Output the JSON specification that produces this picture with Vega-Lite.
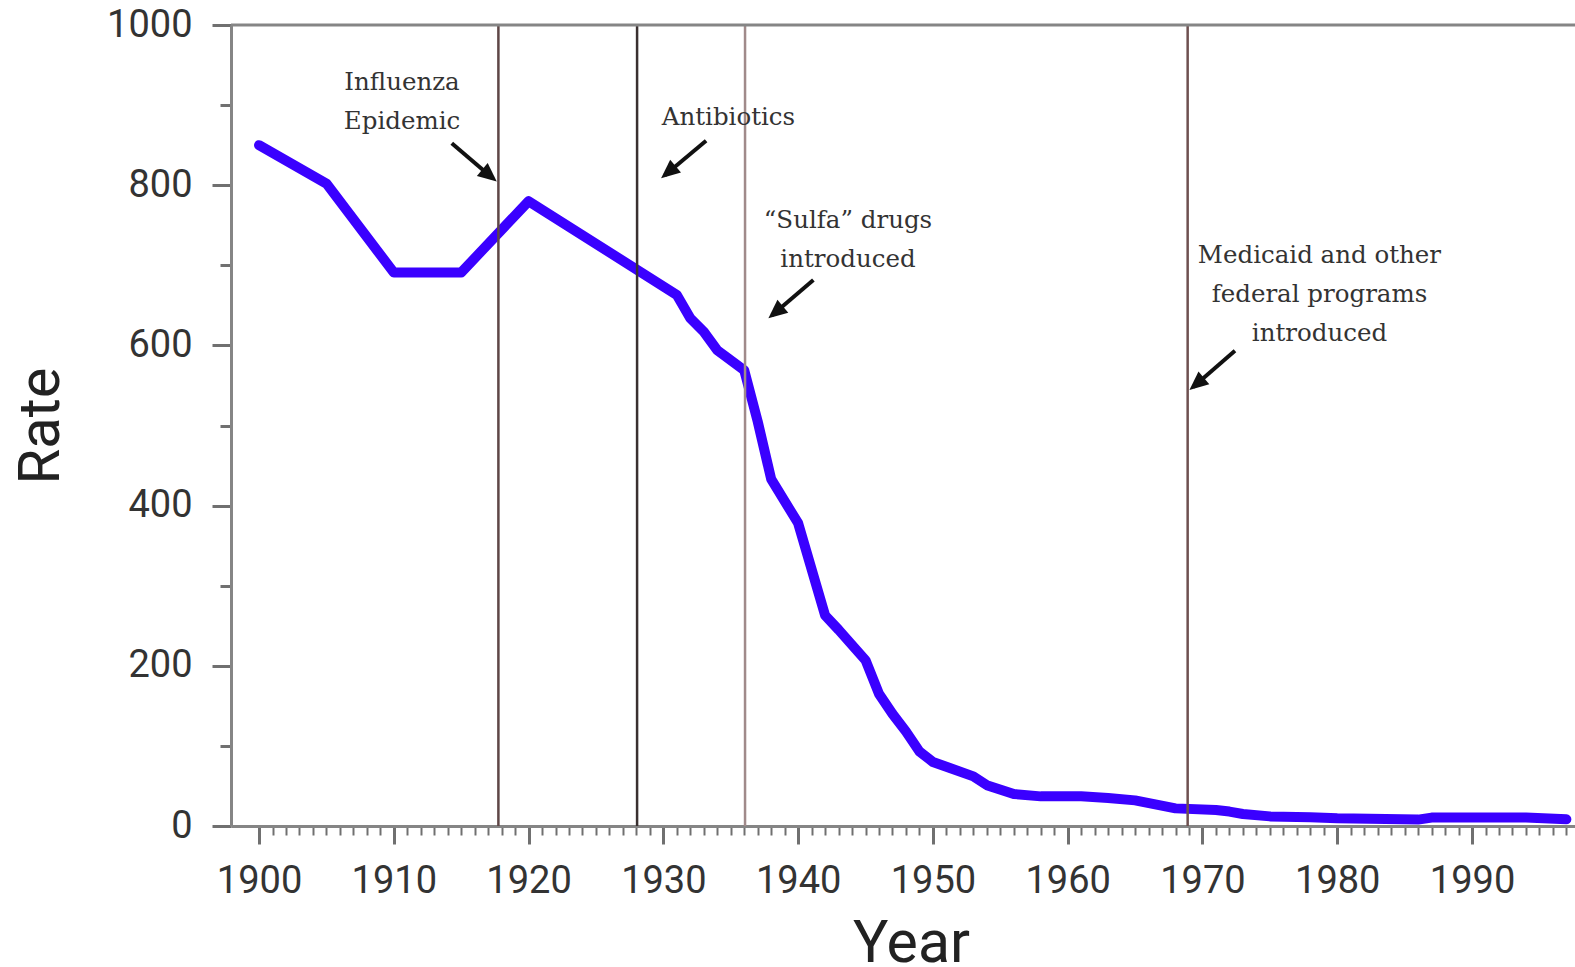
{
  "$schema": "https://vega.github.io/schema/vega-lite/v6.json",
  "width": 1344,
  "height": 801,
  "autosize": {"type": "none"},
  "padding": {"left": 231, "top": 25, "right": 0, "bottom": 141},
  "background": "white",
  "config": {"view": {"stroke": null}, "font": "Roboto"},
  "datasets": {
    "rate": [
      {"year": 1900, "rate": 850},
      {"year": 1905, "rate": 802},
      {"year": 1910, "rate": 691},
      {"year": 1915, "rate": 691},
      {"year": 1920, "rate": 780},
      {"year": 1931, "rate": 663},
      {"year": 1932, "rate": 634},
      {"year": 1933, "rate": 617},
      {"year": 1934, "rate": 594},
      {"year": 1936, "rate": 569},
      {"year": 1937, "rate": 505},
      {"year": 1938, "rate": 433},
      {"year": 1940, "rate": 378},
      {"year": 1942, "rate": 263},
      {"year": 1943, "rate": 245},
      {"year": 1945, "rate": 207},
      {"year": 1946, "rate": 165},
      {"year": 1947, "rate": 140},
      {"year": 1948, "rate": 118},
      {"year": 1949, "rate": 93},
      {"year": 1950, "rate": 80},
      {"year": 1953, "rate": 62},
      {"year": 1954, "rate": 51},
      {"year": 1956, "rate": 40},
      {"year": 1958, "rate": 37},
      {"year": 1961, "rate": 37},
      {"year": 1963, "rate": 35},
      {"year": 1965, "rate": 32},
      {"year": 1968, "rate": 22},
      {"year": 1971, "rate": 20},
      {"year": 1972, "rate": 18},
      {"year": 1973, "rate": 15},
      {"year": 1975, "rate": 12},
      {"year": 1978, "rate": 11},
      {"year": 1980, "rate": 9.6},
      {"year": 1986, "rate": 8},
      {"year": 1987, "rate": 10.5},
      {"year": 1994, "rate": 10.5},
      {"year": 1997, "rate": 8.3}
    ],
    "events": [
      {"event": "Influenza", "year": 1917.76},
      {"event": "Antibiotics", "year": 1928.05},
      {"event": "Sulfa", "year": 1936.06},
      {"event": "Medicaid", "year": 1968.9}
    ],
    "notes": [
      {"event": "Influenza", "year": 1910.61, "rate": 918.9, "label": "Influenza\nEpidemic"},
      {"event": "Antibiotics", "year": 1934.83, "rate": 875.2, "label": "Antibiotics"},
      {"event": "Sulfa", "year": 1943.7, "rate": 746.6, "label": "“Sulfa” drugs\nintroduced"},
      {"event": "Medicaid", "year": 1978.68, "rate": 702.9, "label": "Medicaid and other\nfederal programs\nintroduced"}
    ],
    "arrows": [
      {"event": "Influenza", "year0": 1914.3, "rate0": 852.3, "year1": 1917.36, "rate1": 808.4},
      {"event": "Antibiotics", "year0": 1933.17, "rate0": 855.6, "year1": 1930.11, "rate1": 812.5},
      {"event": "Sulfa", "year0": 1941.13, "rate0": 681.6, "year1": 1938.07, "rate1": 637.7},
      {"event": "Medicaid", "year0": 1972.41, "rate0": 593.4, "year1": 1969.31, "rate1": 548.2}
    ]
  },
  "layer": [
    {
      "data": {"name": "rate"},
      "mark": {"type": "line", "color": "#3a00ff", "strokeWidth": 10, "strokeJoin": "round", "strokeCap": "round"},
      "encoding": {
        "x": {
          "field": "year", "type": "quantitative",
          "scale": {"domain": [1897.92, 1997.64], "nice": false, "zero": false},
          "axis": {
            "title": "Year",
            "values": [1900,1901,1902,1903,1904,1905,1906,1907,1908,1909,1910,1911,1912,1913,1914,1915,1916,1917,1918,1919,1920,1921,1922,1923,1924,1925,1926,1927,1928,1929,1930,1931,1932,1933,1934,1935,1936,1937,1938,1939,1940,1941,1942,1943,1944,1945,1946,1947,1948,1949,1950,1951,1952,1953,1954,1955,1956,1957,1958,1959,1960,1961,1962,1963,1964,1965,1966,1967,1968,1969,1970,1971,1972,1973,1974,1975,1976,1977,1978,1979,1980,1981,1982,1983,1984,1985,1986,1987,1988,1989,1990,1991,1992,1993,1994,1995,1996,1997],
            "tickCount": 1000,
            "format": "d",
            "labelExpr": "datum.value % 10 === 0 ? datum.label : ''",
            "labelOverlap": false,
            "labelFlush": false,
            "grid": false,
            "tickSize": {"condition": {"test": "datum.value % 10 === 0", "value": 18}, "value": 9},
            "tickWidth": {"condition": {"test": "datum.value % 10 === 0", "value": 3}, "value": 2},
            "tickColor": "#707070",
            "domainColor": "#858585",
            "domainWidth": 3,
            "labelFont": "Roboto",
            "labelFontSize": 38,
            "labelColor": "#333333",
            "labelPadding": 18,
            "titleFont": "Roboto",
            "titleFontSize": 59,
            "titleFontWeight": "normal",
            "titleColor": "#222222",
            "titlePadding": 14,
            "titleX": 680
          }
        },
        "y": {
          "field": "rate", "type": "quantitative",
          "scale": {"domain": [0, 1000], "nice": false, "zero": true},
          "axis": {
            "title": "Rate",
            "values": [0,100,200,300,400,500,600,700,800,900,1000],
            "tickCount": 1000,
            "labelExpr": "datum.value % 200 === 0 ? datum.label : ''",
            "format": "d",
            "labelOverlap": false,
            "labelFlush": false,
            "grid": false,
            "tickSize": {"condition": {"test": "datum.value % 200 === 0", "value": 19}, "value": 11},
            "tickWidth": 3,
            "tickColor": "#707070",
            "domainColor": "#858585",
            "domainWidth": 3,
            "labelFont": "Roboto",
            "labelFontSize": 38,
            "labelColor": "#333333",
            "labelPadding": 20,
            "titleFont": "Roboto",
            "titleFontSize": 58,
            "titleFontWeight": "normal",
            "titleColor": "#222222",
            "titlePadding": 36
          }
        }
      }
    },
    {
      "data": {"name": "events"},
      "mark": {"type": "rule", "strokeWidth": 2.5},
      "encoding": {
        "x": {"field": "year", "type": "quantitative"},
        "color": {
          "field": "event", "type": "nominal",
          "scale": {"domain": ["Influenza", "Antibiotics", "Sulfa", "Medicaid"], "range": ["#5e4646", "#3a3030", "#a08a8a", "#6e5050"]},
          "legend": null
        }
      }
    },
    {
      "data": {"values": [{"rate": 1000}]},
      "mark": {"type": "rule", "color": "#858585", "strokeWidth": 3},
      "encoding": {"y": {"field": "rate", "type": "quantitative"}}
    },
    {
      "data": {"name": "notes"},
      "mark": {"type": "text", "font": "DejaVu Serif", "fontSize": 24.5, "lineHeight": 39, "lineBreak": "\n", "align": "center", "baseline": "alphabetic", "color": "#333333"},
      "encoding": {
        "x": {"field": "year", "type": "quantitative"},
        "y": {"field": "rate", "type": "quantitative"},
        "text": {"field": "label", "type": "nominal"}
      }
    },
    {
      "data": {"name": "arrows"},
      "mark": {"type": "rule", "color": "#111111", "strokeWidth": 4},
      "encoding": {
        "x": {"field": "year0", "type": "quantitative"},
        "y": {"field": "rate0", "type": "quantitative"},
        "x2": {"field": "year1"},
        "y2": {"field": "rate1"}
      }
    },
    {
      "data": {"name": "arrows"},
      "transform": [{"filter": "datum.event === 'Influenza'"}],
      "mark": {"type": "point", "shape": "M0,-0.35L-0.6,1L0.6,1Z", "size": 784, "angle": 130, "filled": true, "color": "#111111", "opacity": 1},
      "encoding": {
        "x": {"field": "year1", "type": "quantitative"},
        "y": {"field": "rate1", "type": "quantitative"}
      }
    },
    {
      "data": {"name": "arrows"},
      "transform": [{"filter": "datum.event !== 'Influenza'"}],
      "mark": {"type": "point", "shape": "M0,-0.35L-0.6,1L0.6,1Z", "size": 784, "angle": 230, "filled": true, "color": "#111111", "opacity": 1},
      "encoding": {
        "x": {"field": "year1", "type": "quantitative"},
        "y": {"field": "rate1", "type": "quantitative"}
      }
    }
  ]
}
